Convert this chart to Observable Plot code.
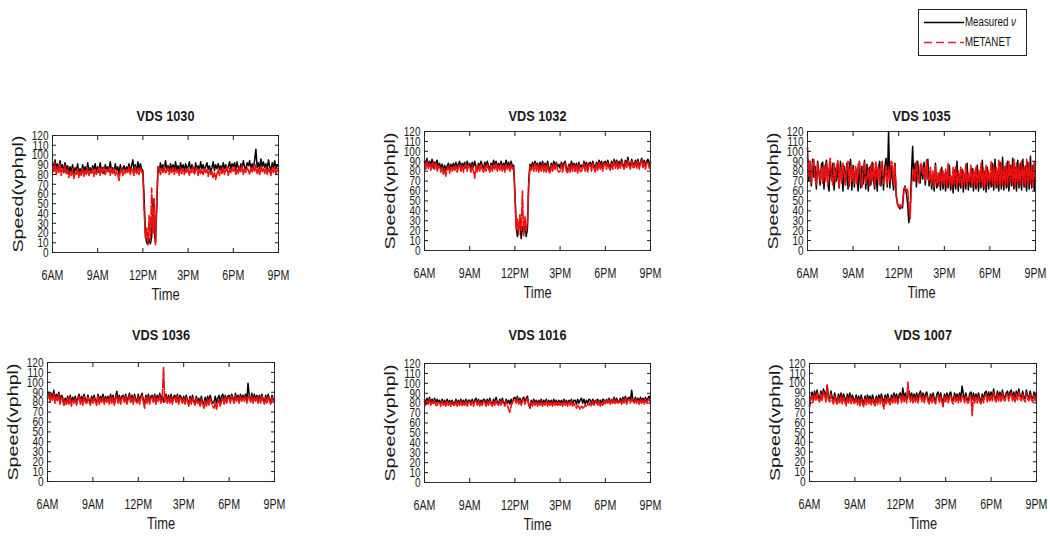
<!DOCTYPE html>
<html><head><meta charset="utf-8">
<script src="https://cdn.jsdelivr.net/npm/d3@7"></script>
<script src="https://cdn.jsdelivr.net/npm/@observablehq/plot@0.6"></script>
<style>
body{margin:0;background:#fff;}
#root{position:relative;width:1050px;height:537px;overflow:hidden;background:#fff;font-family:"Liberation Sans",Arial,sans-serif;color:#111;}
.panel{position:absolute;}
#legend{position:absolute;left:918px;top:9px;width:109px;height:47px;border:1px solid #222;box-sizing:border-box;background:#fff;}
#legend span{position:absolute;left:46px;font-size:12.5px;line-height:14px;white-space:nowrap;transform:scaleX(0.78);transform-origin:0 50%;}
</style></head><body><div id="root">
<div id="legend">
<svg width="107" height="45" style="position:absolute;left:0;top:0">
<line x1="5" x2="45" y1="12.5" y2="12.5" stroke="#000" stroke-width="1.5"/>
<line x1="5" x2="45" y1="32.5" y2="32.5" stroke="#d8203c" stroke-width="1.5" stroke-dasharray="8,4"/>
</svg>
<span style="top:5px">Measured <i>ν</i></span>
<span style="top:25px">METANET</span>
</div>
</div>
<script>
// ---- data (5-minute samples, 6AM .. 9PM, one row per hour) ----
const stations = ["VDS 1030", "VDS 1032", "VDS 1035", "VDS 1036", "VDS 1016", "VDS 1007"];
const xTickVals = [6, 9, 12, 15, 18, 21];
const xTickLabels = ["6AM", "9AM", "12PM", "3PM", "6PM", "9PM"];
const yTicks = [0, 10, 20, 30, 40, 50, 60, 70, 80, 90, 100, 110, 120];

const m1030 = [
93,84,95,86,91,83,94,87,90,82,92,85,
89,81,88,83,90,80,87,84,91,82,86,80,
90,83,88,81,92,84,87,82,89,85,91,83,
88,82,92,84,87,81,90,85,88,83,93,84,
87,82,91,84,88,80,90,83,86,89,82,88,
85,91,83,89,95,84,90,82,93,85,91,86,
84,55,18,10,8,14,9,16,55,22,10,45,
88,83,92,85,90,84,94,86,89,83,91,85,
90,84,93,85,89,83,92,86,90,84,91,86,
88,93,84,90,86,82,92,85,89,84,93,86,
90,84,88,92,85,89,83,87,93,84,90,86,
91,85,89,84,92,86,90,84,88,93,85,91,
88,92,85,93,87,84,91,86,94,88,85,92,
89,94,86,91,85,95,106,87,92,86,96,88,
93,87,91,85,95,88,84,92,87,94,86,90,
88];
const p1030 = [
90,83,92,80,88,82,91,79,86,83,89,80,
85,77,83,79,86,76,82,80,87,77,83,79,
86,78,84,80,87,79,83,81,86,78,85,80,
84,88,79,86,81,88,80,85,82,87,79,86,
81,86,79,84,80,74,83,87,79,85,81,86,
82,88,80,86,83,79,88,81,86,80,87,83,
80,42,15,25,8,38,12,66,20,55,8,50,
85,88,80,86,82,89,81,84,87,80,86,82,
87,80,86,82,85,79,87,81,86,80,85,82,
86,79,85,82,88,80,84,87,79,86,81,85,
80,86,82,85,78,84,80,83,76,82,75,81,
85,79,86,81,87,80,85,88,79,86,82,87,
83,88,80,86,81,88,83,89,80,86,82,87,
84,80,87,82,88,83,90,81,86,80,88,83,
87,81,88,80,86,83,79,87,82,88,80,86,
83];

const m1032 = [
91,85,93,84,90,86,92,83,89,87,91,84,
88,82,87,80,86,81,85,88,82,87,84,88,
83,89,84,87,90,82,88,85,89,83,90,84,
88,82,89,84,90,85,81,88,84,90,86,82,
89,84,90,85,82,88,84,91,85,90,83,88,
84,90,83,88,85,91,84,89,83,90,85,86,
60,25,14,22,32,12,24,18,30,14,22,70,
87,83,89,84,90,86,88,82,89,84,90,83,
88,83,90,84,81,88,83,90,85,89,84,87,
83,89,84,88,90,83,81,87,84,90,85,88,
83,88,82,89,84,86,83,90,85,89,83,88,
89,84,90,86,83,89,84,91,86,90,84,89,
90,85,91,86,84,90,85,92,86,91,85,90,
86,92,87,84,91,86,94,87,85,92,88,86,
91,86,92,85,89,93,86,91,85,90,92,86,
89];
const p1032 = [
89,82,90,83,88,81,87,90,82,88,80,85,
85,79,84,77,83,75,82,85,78,84,80,85,
80,86,79,84,87,80,86,79,85,87,80,86,
84,79,86,80,73,85,79,86,80,87,82,79,
86,80,87,82,79,86,80,87,82,88,80,86,
81,87,80,86,79,87,82,86,80,87,82,84,
55,22,32,16,36,20,60,15,34,20,28,65,
85,81,86,80,88,80,87,79,86,80,87,79,
86,79,87,80,78,86,80,87,82,88,81,79,
80,87,79,86,88,80,78,86,79,87,80,86,
79,86,78,87,80,79,86,88,80,87,79,86,
87,80,88,83,79,87,81,89,82,88,80,87,
88,82,89,83,81,88,82,90,83,89,82,88,
83,90,85,82,89,83,91,85,82,90,84,83,
89,83,90,82,88,91,83,89,82,88,90,83,
88];

const m1035 = [
95,70,88,65,92,74,85,62,90,78,66,87,
89,62,84,91,67,60,86,73,88,61,83,70,
87,63,90,77,60,85,66,88,62,84,92,61,
86,64,83,74,60,88,63,85,67,91,62,87,
60,84,66,89,72,62,85,60,83,90,65,87,
61,84,93,64,120,63,85,71,61,88,55,48,
44,42,45,43,60,65,58,48,28,40,75,105,
70,88,64,90,75,68,86,72,89,66,85,92,
65,80,62,75,60,88,63,66,78,61,84,62,
77,60,79,63,86,61,74,58,81,62,90,60,
76,63,82,59,77,62,88,61,75,64,83,60,
79,62,86,60,78,63,91,61,80,59,84,62,
77,64,88,61,92,63,80,60,89,62,94,61,
85,63,90,60,86,65,93,62,84,60,91,63,
88,61,92,64,85,60,89,62,95,63,86,60,
90];
const p1035 = [
104,75,90,68,86,92,72,66,88,80,70,84,
67,86,70,90,65,84,93,72,66,88,69,85,
91,64,84,68,88,79,66,83,90,64,86,70,
82,68,85,66,87,90,71,64,84,89,68,72,
83,65,86,70,88,65,90,72,84,66,85,90,
68,71,86,66,84,70,90,88,65,87,58,46,
44,46,43,47,62,64,60,62,45,32,65,75,
82,70,90,74,68,86,88,76,84,70,92,72,
70,84,66,80,64,86,68,78,65,82,67,80,
66,82,64,88,67,76,63,84,66,85,64,80,
68,85,63,80,66,87,65,78,69,86,64,82,
66,84,64,81,68,88,65,83,63,86,66,80,
68,90,65,86,67,84,64,91,66,88,65,84,
67,88,64,90,69,86,66,92,64,89,67,85,
65,90,68,84,64,92,66,88,67,85,64,89,
70];

const m1036 = [
86,90,83,89,85,92,82,88,84,90,81,87,
85,78,84,80,86,79,87,80,85,81,86,80,
84,88,80,86,81,88,83,80,87,82,80,86,
81,87,82,79,88,81,86,82,88,80,86,82,
86,80,88,82,87,79,85,91,81,87,80,86,
87,81,88,80,85,89,81,87,80,88,83,81,
88,80,86,89,82,79,87,81,88,80,86,87,
81,88,80,87,83,89,81,87,80,86,88,81,
87,81,88,80,86,87,81,88,80,87,85,81,
86,80,87,82,79,86,80,87,82,79,86,80,
84,79,86,80,78,85,79,86,80,87,82,79,
80,86,79,84,87,80,86,88,81,87,80,86,
87,81,88,85,80,89,83,87,81,88,83,87,
83,88,81,99,86,82,89,81,88,83,87,81,
87,81,88,83,80,87,81,88,83,80,87,83,
82];
const p1036 = [
84,88,80,87,82,89,79,86,81,88,78,85,
83,76,82,77,84,78,85,76,82,79,84,77,
82,86,78,84,77,86,80,78,85,80,77,84,
79,85,80,77,86,78,84,80,85,78,84,80,
84,78,86,79,85,77,83,87,79,85,78,84,
85,79,86,78,83,87,79,85,78,86,81,79,
85,78,84,87,80,74,85,79,86,78,84,85,
79,86,78,85,81,87,79,84,115,80,86,79,
85,79,86,78,84,85,79,86,78,85,83,79,
84,78,85,80,76,84,78,85,80,77,84,78,
81,76,83,77,74,82,76,83,77,84,79,76,
74,80,73,79,82,76,81,84,78,85,79,84,
85,79,86,83,78,87,81,85,79,86,81,85,
81,86,79,84,87,80,86,79,85,81,85,79,
85,79,86,81,78,85,79,86,81,78,85,81,
80];

const m1016 = [
84,80,85,81,86,80,84,81,85,80,84,81,
83,79,84,80,83,79,84,80,83,79,83,80,
80,84,79,83,80,84,79,83,80,84,79,83,
83,80,84,79,83,85,80,84,79,83,80,84,
83,79,84,80,85,81,79,84,80,86,81,80,
84,80,85,81,79,84,80,83,79,84,80,85,
86,82,87,81,85,80,84,86,81,85,87,79,
75,83,79,84,80,83,79,83,80,84,79,83,
80,84,79,83,80,83,79,84,80,83,79,83,
80,83,79,84,80,83,79,83,80,84,79,83,
83,79,84,80,83,85,80,84,79,83,80,84,
83,80,84,79,83,80,84,80,83,79,84,83,
80,84,81,85,80,84,81,86,81,85,82,81,
85,81,86,82,87,81,85,86,82,93,83,82,
86,82,85,81,86,82,85,81,86,82,85,87,
82];
const p1016 = [
82,78,83,79,84,78,82,79,83,78,77,81,
81,77,82,78,81,77,82,78,81,77,81,78,
78,82,77,81,78,82,77,81,78,82,77,81,
81,78,82,77,81,83,78,82,77,81,78,82,
81,77,82,78,83,79,77,82,78,83,79,78,
82,78,83,79,77,82,78,74,71,77,82,83,
84,80,85,79,83,78,82,84,79,83,85,78,
76,81,77,82,78,81,77,81,78,82,77,81,
78,82,77,81,78,81,77,82,78,81,77,81,
78,81,77,82,78,81,77,81,78,82,77,80,
77,75,78,76,74,77,75,76,78,77,79,78,
81,77,82,78,81,83,78,82,77,81,78,82,
79,83,80,84,79,83,80,84,79,83,80,81,
83,79,84,80,85,79,83,84,80,85,81,80,
84,80,83,79,84,80,83,79,84,80,83,84,
80];

const m1007 = [
76,84,91,84,92,85,93,86,84,92,85,94,
91,84,98,86,84,92,85,83,90,84,82,89,
83,90,82,89,85,81,89,83,90,82,88,84,
82,88,81,87,80,88,83,79,87,81,88,83,
87,81,88,83,80,87,81,88,83,89,84,81,
88,82,89,84,81,88,83,90,84,89,82,88,
90,83,95,84,90,83,89,92,84,90,83,89,
84,90,83,89,92,84,90,83,89,91,84,82,
89,83,90,84,82,89,91,83,90,84,78,89,
84,90,83,89,91,84,82,90,84,89,83,90,
84,97,89,83,90,84,82,89,91,84,90,83,
89,83,90,84,82,89,83,90,92,84,91,85,
91,85,94,86,84,92,85,91,84,93,86,85,
90,92,85,91,93,85,91,84,92,86,94,87,
85,92,86,84,93,87,85,92,86,84,91,85,
90];
const p1007 = [
78,84,88,81,89,82,90,83,81,89,82,91,
88,81,98,83,81,89,82,79,87,81,78,86,
80,87,79,86,81,77,86,80,87,79,85,80,
79,85,78,84,77,85,79,76,84,78,85,79,
84,78,85,79,77,84,78,85,79,86,80,74,
85,79,86,80,78,85,79,87,80,86,79,85,
87,80,88,81,87,80,101,86,81,87,80,86,
81,87,80,86,89,81,87,80,86,88,81,79,
86,80,87,81,79,86,88,80,87,81,76,86,
81,87,80,86,88,81,79,87,81,86,80,87,
81,87,86,80,87,81,79,86,88,67,87,80,
86,80,87,81,79,86,80,87,89,81,88,82,
88,82,91,83,81,89,82,88,81,90,83,82,
87,89,82,88,90,82,88,81,89,83,91,84,
82,89,83,81,90,84,82,89,83,81,88,82,
87];

const measured = [m1030, m1032, m1035, m1036, m1016, m1007];
const metanet  = [p1030, p1032, p1035, p1036, p1016, p1007];

// ---- layout (frame rectangles in page pixels) ----
const frames = [
  {left: 52,  top: 135, w: 226, h: 117, titleDy: 19},
  {left: 424, top: 131, w: 226, h: 119, titleDy: 15},
  {left: 807, top: 131, w: 228, h: 119, titleDy: 15},
  {left: 47,  top: 362, w: 227, h: 119, titleDy: 27},
  {left: 424, top: 363, w: 226, h: 119, titleDy: 28},
  {left: 809, top: 363, w: 227, h: 118, titleDy: 28}
];
const ML = 52, MR = 14, MT = 40, MB = 62;

const root = document.getElementById("root");
stations.forEach((name, k) => {
  const f = frames[k];
  const t0 = 6, step = 1 / 12;
  const mRows = measured[k].map((v, i) => ({t: t0 + i * step, v}));
  const pRows = metanet[k].map((v, i) => ({t: t0 + i * step, v}));
  const fmt = d => xTickLabels[xTickVals.indexOf(d)];
  const chart = Plot.plot({
    width: ML + f.w + MR,
    height: MT + f.h + MB,
    marginLeft: ML, marginRight: MR, marginTop: MT, marginBottom: MB,
    style: {fontFamily: '"Liberation Sans",Arial,sans-serif', background: "transparent", color: "#1a1a1a", overflow: "visible"},
    x: {domain: [6, 21], axis: null},
    y: {domain: [0, 120], axis: null},
    marks: [
      Plot.line(mRows, {x: "t", y: "v", stroke: "#000", strokeWidth: 1.5}),
      Plot.line(pRows, {x: "t", y: "v", stroke: "#f01010", strokeWidth: 1.6, strokeDasharray: "9,2"}),
      Plot.frame({stroke: "#333", strokeWidth: 1}),
      Plot.axisX(xTickVals, {anchor: "bottom", tickSize: -4, fill: "none", label: null}),
      Plot.axisX(xTickVals, {anchor: "top", tickSize: -4, fill: "none", label: null}),
      Plot.axisY(yTicks, {anchor: "left", tickSize: -4, fill: "none", label: null}),
      Plot.axisY(yTicks, {anchor: "right", tickSize: -4, fill: "none", label: null}),
      Plot.axisX(xTickVals, {anchor: "bottom", tickSize: 0, tickPadding: 18, tickFormat: fmt, fontSize: 14, label: null}),
      Plot.axisY(yTicks, {anchor: "left", tickSize: 0, tickPadding: 4, fontSize: 13.5, label: null}),
      Plot.text([name], {text: d => d, frameAnchor: "top", dy: -f.titleDy, fontSize: 15.5, fontWeight: "bold", lineAnchor: "middle"}),
      Plot.text(["Time"], {text: d => d, frameAnchor: "bottom", dy: 42, fontSize: 17, lineAnchor: "middle"}),
      Plot.text(["Speed(vphpl)"], {text: d => d, frameAnchor: "left", dx: -34, rotate: -90, fontSize: 14.5, lineAnchor: "middle", textAnchor: "middle"})
    ]
  });
  const div = document.createElement("div");
  div.className = "panel";
  div.style.left = (f.left - ML) + "px";
  div.style.top = (f.top - MT) + "px";
  div.appendChild(chart);
  root.appendChild(div);
  // condensed-font look: squeeze each text horizontally
  chart.querySelectorAll("text").forEach(t => {
    const s = t.textContent;
    let factor = 0.8;
    if (xTickLabels.includes(s)) factor = 0.76;
    else if (/^\d+$/.test(s)) factor = 0.74;
    else if (stations.includes(s)) factor = 0.82;
    else if (s === "Time") factor = 0.76;
    if (s === "Speed(vphpl)") {
      t.setAttribute("textLength", 117);
    } else {
      const len = t.getComputedTextLength();
      if (len > 0) t.setAttribute("textLength", (len * factor).toFixed(1));
    }
    t.setAttribute("lengthAdjust", "spacingAndGlyphs");
  });
});
</script>
</body></html>
